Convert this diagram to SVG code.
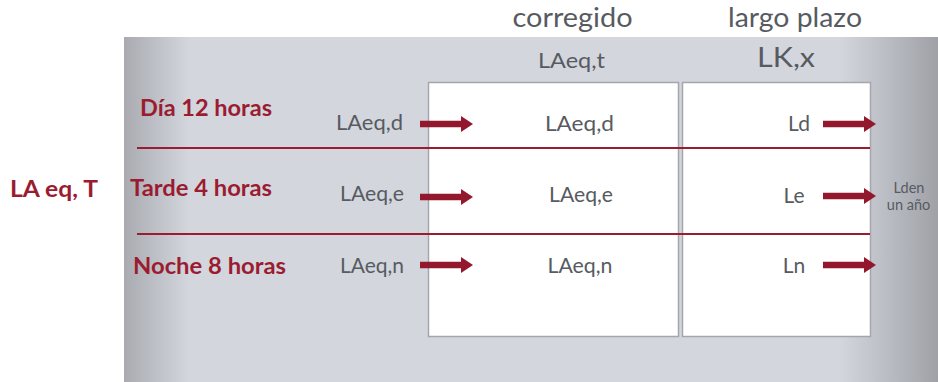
<svg xmlns="http://www.w3.org/2000/svg" width="938" height="382" viewBox="0 0 938 382">
<defs>
<linearGradient id="bg" x1="0" y1="0" x2="1" y2="0">
<stop offset="0" stop-color="#a9abb1"/>
<stop offset="0.08" stop-color="#d3d6dd"/>
<stop offset="0.88" stop-color="#d3d6dd"/>
<stop offset="1" stop-color="#9fa1a7"/>
</linearGradient>
<path id="arrow" d="M0,-3.2 H41 V-8 L53,0 L41,8 V3.2 H0 Z"/>
</defs>
<style>
.g{font-family:"Lato","Open Sans","Liberation Sans",sans-serif;fill:#575b61;font-size:21px}
.r{font-family:"Lato","Open Sans","Liberation Sans",sans-serif;fill:#9b1c31;font-weight:700;font-size:22px}
.h{font-size:26px}
.s{font-size:14.5px}
.m{text-anchor:middle}
.e{text-anchor:end}
.box{fill:#fff;stroke:#a4a6ab;stroke-width:1.5}
.div{stroke:#9b1c31;stroke-width:2}
.arr{fill:#93182d}
</style>
<rect x="124" y="37" width="814" height="345" fill="url(#bg)"/>
<g id="box-corregido"><rect class="box" x="428.5" y="82.5" width="250" height="254"/></g>
<g id="box-largo"><rect class="box" x="682.5" y="82.5" width="188" height="254"/></g>
<g id="headers">
<text class="g h m" x="572.5" y="27" textLength="120" lengthAdjust="spacingAndGlyphs">corregido</text>
<text class="g h m" x="795" y="27" textLength="134" lengthAdjust="spacingAndGlyphs">largo plazo</text>
<text class="g m" x="571.5" y="68" textLength="67" lengthAdjust="spacingAndGlyphs">LAeq,t</text>
<text class="g m" x="786" y="67" textLength="58" lengthAdjust="spacingAndGlyphs" style="font-size:27px">LK,x</text>
</g>
<g id="lat"><text class="r" x="10" y="197" textLength="88" lengthAdjust="spacingAndGlyphs" style="font-size:23px">LA eq, T</text></g>
<g id="row-dia">
<text class="r" x="140" y="116" textLength="132" lengthAdjust="spacingAndGlyphs">Día 12 horas</text>
<text class="g e" x="403" y="130" textLength="67" lengthAdjust="spacingAndGlyphs">LAeq,d</text>
<text class="g m" x="579.5" y="131" textLength="69" lengthAdjust="spacingAndGlyphs">LAeq,d</text>
<text class="g m" x="799" y="131">Ld</text>
</g>
<g id="row-tarde">
<text class="r" x="130" y="196" textLength="142" lengthAdjust="spacingAndGlyphs">Tarde 4 horas</text>
<text class="g e" x="404" y="201" textLength="64" lengthAdjust="spacingAndGlyphs">LAeq,e</text>
<text class="g m" x="581" y="202" textLength="64" lengthAdjust="spacingAndGlyphs">LAeq,e</text>
<text class="g m" x="794" y="203">Le</text>
</g>
<g id="row-noche">
<text class="r" x="133" y="274" textLength="153" lengthAdjust="spacingAndGlyphs">Noche 8 horas</text>
<text class="g e" x="404" y="273" textLength="64" lengthAdjust="spacingAndGlyphs">LAeq,n</text>
<text class="g m" x="580" y="273" textLength="65" lengthAdjust="spacingAndGlyphs">LAeq,n</text>
<text class="g m" x="794" y="273">Ln</text>
</g>
<g id="lden">
<text class="g s m" x="909" y="193">Lden</text>
<text class="g s m" x="908.5" y="210">un año</text>
</g>
<g id="connectors">
<line class="div" x1="137" y1="148" x2="870" y2="148"/>
<line class="div" x1="137" y1="234" x2="870" y2="234"/>
<g class="arr">
<use href="#arrow" x="420" y="124"/>
<use href="#arrow" x="420" y="197"/>
<use href="#arrow" x="420" y="265"/>
<use href="#arrow" x="823" y="124"/>
<use href="#arrow" x="823" y="196"/>
<use href="#arrow" x="823" y="265"/>
</g>
</g>
</svg>
